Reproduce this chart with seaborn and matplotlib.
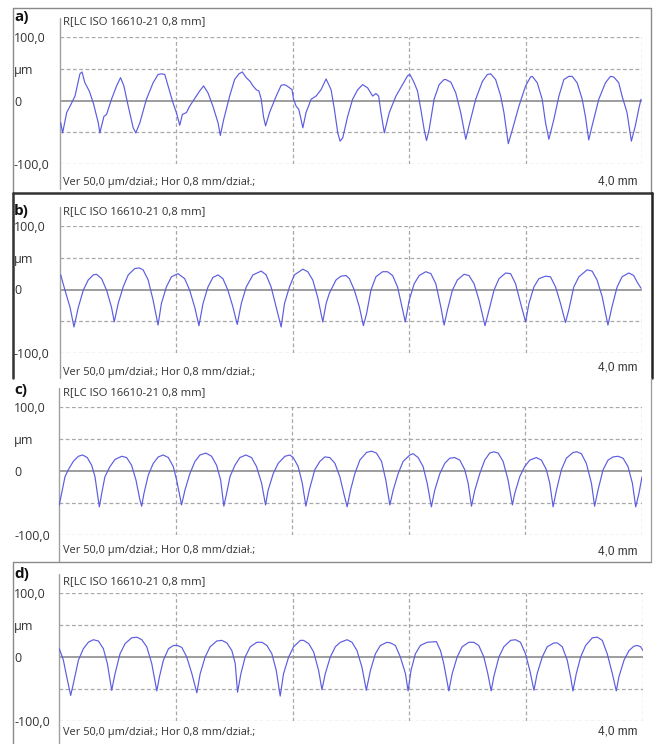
import numpy as np
import pandas as pd
import seaborn as sns
import matplotlib.pyplot as plt
from matplotlib.lines import Line2D

# profile readings: x in mm, y in um
a_x = [0.005, 0.018, 0.046, 0.080, 0.103, 0.137, 0.151, 0.171, 0.201, 0.229, 0.263, 0.274,
       0.302, 0.320, 0.354, 0.389, 0.416, 0.439, 0.469, 0.503, 0.521, 0.549, 0.594, 0.640,
       0.674, 0.697, 0.720, 0.743, 0.777, 0.800, 0.823, 0.841, 0.869, 0.891, 0.937, 0.960,
       0.987, 1.017, 1.051, 1.086, 1.102, 1.125, 1.166, 1.200, 1.230, 1.253, 1.280, 1.307,
       1.326, 1.349, 1.367, 1.383, 1.399, 1.413, 1.440, 1.486, 1.520, 1.543, 1.566, 1.595,
       1.605, 1.623, 1.641, 1.657, 1.669, 1.691, 1.726, 1.760, 1.794, 1.829, 1.863, 1.886,
       1.909, 1.925, 1.943, 1.977, 2.011, 2.046, 2.080, 2.114, 2.149, 2.171, 2.190, 2.206,
       2.229, 2.263, 2.309, 2.354, 2.389, 2.405, 2.434, 2.457, 2.480, 2.503, 2.519, 2.537,
       2.571, 2.606, 2.640, 2.651, 2.686, 2.720, 2.754, 2.789, 2.811, 2.857, 2.903, 2.937,
       2.960, 2.994, 3.029, 3.051, 3.081, 3.109, 3.154, 3.200, 3.234, 3.246, 3.280, 3.314,
       3.337, 3.360, 3.394, 3.429, 3.463, 3.497, 3.520, 3.554, 3.589, 3.611, 3.634, 3.657,
       3.703, 3.749, 3.783, 3.806, 3.840, 3.863, 3.897, 3.927, 3.954, 3.977, 3.993]
a_y = [-35, -51, -19, -4, 7, 42, 45, 28, 15, -4, -35, -51,
       -25, -22, 2, 23, 36, 23, -9, -43, -51, -35, 2, 28,
       41, 42, 41, 23, -4, -19, -39, -22, -19, -9, 7, 15,
       23, 12, -9, -35, -55, -30, 7, 33, 42, 45, 36, 30,
       23, 17, 15, 2, -26, -40, -19, 7, 24, 25, 22, 17,
       2, -9, -14, -30, -43, -19, 2, 7, 17, 34, 17, -14,
       -51, -64, -59, -25, 2, 17, 25, 20, 7, 11, 7, -19,
       -51, -19, 7, 25, 39, 41, 28, 15, -14, -46, -63, -46,
       2, 25, 33, 33, 29, 12, -19, -61, -40, 2, 30, 41,
       42, 33, 7, -19, -68, -46, -9, 23, 37, 38, 28, 2,
       -35, -61, -30, 7, 33, 38, 38, 28, 2, -25, -62, -40,
       2, 28, 38, 37, 28, 7, -19, -64, -40, -14, 2]

b_x = [0.005, 0.034, 0.069, 0.096, 0.126, 0.160, 0.194, 0.229, 0.251, 0.286, 0.320, 0.354,
       0.373, 0.400, 0.434, 0.469, 0.514, 0.544, 0.571, 0.606, 0.640, 0.674, 0.697, 0.731,
       0.766, 0.811, 0.857, 0.891, 0.926, 0.955, 0.983, 1.017, 1.051, 1.086, 1.120, 1.154,
       1.189, 1.218, 1.246, 1.280, 1.326, 1.383, 1.417, 1.451, 1.486, 1.520, 1.543, 1.577,
       1.611, 1.669, 1.703, 1.737, 1.771, 1.806, 1.829, 1.851, 1.897, 1.931, 1.966, 1.989,
       2.023, 2.057, 2.085, 2.107, 2.137, 2.171, 2.217, 2.251, 2.286, 2.320, 2.350, 2.373,
       2.400, 2.434, 2.469, 2.514, 2.549, 2.583, 2.617, 2.640, 2.663, 2.697, 2.731, 2.777,
       2.811, 2.846, 2.880, 2.921, 2.949, 2.983, 3.017, 3.063, 3.097, 3.131, 3.166, 3.200,
       3.223, 3.257, 3.291, 3.337, 3.371, 3.406, 3.440, 3.474, 3.497, 3.531, 3.566, 3.623,
       3.657, 3.691, 3.726, 3.766, 3.794, 3.829, 3.863, 3.909, 3.943, 3.966, 3.993]
b_y = [23, -1, -28, -59, -28, -1, 15, 23, 24, 17, -1, -28,
       -51, -22, 4, 23, 33, 34, 31, 15, -17, -56, -22, 4,
       20, 25, 17, -1, -28, -57, -22, 4, 19, 23, 17, -1,
       -28, -55, -22, 4, 23, 29, 23, 4, -28, -59, -22, 4,
       23, 32, 28, 15, -12, -51, -22, -6, 15, 21, 22, 17,
       -1, -27, -57, -38, -1, 20, 28, 28, 22, 4, -27, -51,
       -17, 9, 22, 28, 25, 9, -27, -56, -32, -1, 15, 24,
       22, 9, -17, -57, -32, -1, 17, 26, 25, 9, -22, -51,
       -22, 4, 17, 21, 20, 4, -22, -52, -32, 4, 20, 31,
       29, 15, -11, -56, -27, 4, 20, 26, 22, 12, 2]

c_x = [0.002, 0.018, 0.041, 0.064, 0.098, 0.133, 0.162, 0.194, 0.224, 0.247, 0.263, 0.277,
       0.293, 0.315, 0.350, 0.384, 0.430, 0.464, 0.498, 0.528, 0.555, 0.567, 0.583, 0.613,
       0.647, 0.681, 0.715, 0.750, 0.784, 0.807, 0.830, 0.841, 0.864, 0.898, 0.933, 0.967,
       1.008, 1.047, 1.081, 1.109, 1.131, 1.150, 1.173, 1.207, 1.241, 1.282, 1.321, 1.355,
       1.390, 1.417, 1.435, 1.470, 1.504, 1.550, 1.584, 1.607, 1.641, 1.669, 1.694, 1.717,
       1.755, 1.790, 1.824, 1.858, 1.893, 1.927, 1.954, 1.977, 2.000, 2.030, 2.064, 2.110,
       2.144, 2.178, 2.213, 2.242, 2.270, 2.293, 2.327, 2.361, 2.407, 2.430, 2.464, 2.498,
       2.526, 2.555, 2.578, 2.613, 2.647, 2.681, 2.715, 2.750, 2.784, 2.807, 2.830, 2.853,
       2.887, 2.921, 2.955, 2.983, 3.013, 3.047, 3.081, 3.111, 3.127, 3.161, 3.195, 3.230,
       3.275, 3.310, 3.344, 3.367, 3.390, 3.413, 3.447, 3.481, 3.527, 3.554, 3.584, 3.618,
       3.653, 3.675, 3.698, 3.733, 3.767, 3.801, 3.836, 3.870, 3.904, 3.934, 3.957, 3.979, 4.000]
c_y = [-53, -35, -9, 2, 15, 23, 25, 21, 9, -9, -35, -56,
       -35, -9, 7, 18, 23, 21, 9, -14, -45, -55, -35, -6,
       12, 22, 25, 21, 7, -14, -40, -53, -30, -4, 15, 25,
       28, 23, 9, -14, -55, -35, -9, 9, 21, 25, 21, 7,
       -19, -53, -30, -4, 12, 23, 25, 21, 7, -19, -55, -30,
       2, 15, 22, 21, 12, -9, -35, -56, -30, -4, 17, 29,
       31, 28, 15, -14, -53, -30, -4, 15, 25, 27, 21, 7,
       -19, -56, -30, -4, 12, 20, 21, 17, 2, -19, -55, -30,
       -4, 17, 28, 30, 28, 15, -14, -53, -35, -9, 7, 17,
       21, 17, 2, -19, -56, -30, 2, 20, 29, 30, 27, 12,
       -19, -55, -30, 2, 17, 22, 23, 20, 7, -19, -56, -35, -9]

d_x = [0.002, 0.030, 0.053, 0.080, 0.098, 0.133, 0.167, 0.201, 0.235, 0.270, 0.304, 0.331,
       0.361, 0.384, 0.418, 0.453, 0.498, 0.533, 0.567, 0.601, 0.635, 0.670, 0.688, 0.715,
       0.750, 0.784, 0.811, 0.841, 0.875, 0.910, 0.944, 0.967, 1.001, 1.035, 1.081, 1.115,
       1.150, 1.184, 1.207, 1.223, 1.246, 1.275, 1.310, 1.355, 1.390, 1.424, 1.458, 1.488,
       1.515, 1.538, 1.573, 1.607, 1.653, 1.675, 1.710, 1.744, 1.778, 1.801, 1.824, 1.858,
       1.893, 1.927, 1.973, 2.007, 2.041, 2.075, 2.105, 2.133, 2.167, 2.201, 2.247, 2.270,
       2.304, 2.338, 2.373, 2.391, 2.411, 2.441, 2.475, 2.521, 2.585, 2.613, 2.635, 2.670,
       2.693, 2.727, 2.761, 2.807, 2.841, 2.875, 2.910, 2.937, 2.960, 2.978, 3.013, 3.047,
       3.093, 3.127, 3.161, 3.195, 3.225, 3.253, 3.275, 3.310, 3.344, 3.390, 3.413, 3.447,
       3.481, 3.504, 3.520, 3.543, 3.573, 3.607, 3.653, 3.687, 3.721, 3.755, 3.790, 3.817,
       3.835, 3.870, 3.904, 3.938, 3.961, 3.984, 4.000]
d_y = [13, -5, -31, -60, -42, -5, 13, 23, 27, 25, 13, -10,
       -52, -26, 5, 21, 30, 31, 27, 16, -10, -53, -31, -5,
       13, 18, 18, 15, 0, -26, -56, -26, 0, 16, 25, 26,
       22, 10, -10, -55, -26, 0, 16, 23, 23, 18, 5, -21,
       -61, -26, 0, 16, 26, 26, 21, 8, -21, -51, -26, 0,
       16, 23, 27, 23, 10, -16, -52, -21, 5, 18, 23, 22,
       18, 0, -26, -53, -21, 5, 18, 23, 24, 10, -10, -53,
       -26, 0, 16, 23, 23, 18, 0, -26, -53, -31, 0, 16,
       26, 27, 23, 5, -21, -52, -26, 0, 16, 22, 22, 16,
       -5, -31, -53, -26, 0, 18, 30, 31, 26, 5, -26, -53,
       -31, -5, 10, 17, 18, 16, 10]

labels = ["a)", "b)", "c)", "d)"]
title = "R[LC ISO 16610-21 0,8 mm]"
footer = "Ver 50,0 \u00b5m/dzia\u0142.; Hor 0,8 mm/dzia\u0142.;"
length_label = "4,0 mm"
ytick_vals = [100, 50, 0, -100]
ytick_text = ["100,0", "\u00b5m", "0", "-100,0"]
xgrid = [0.8, 1.6, 2.4, 3.2, 4.0]

sns.set_style("white")
plt.rcParams['font.family'] = ['Open Sans', 'DejaVu Sans']

W, H = 655, 744
fig = plt.figure(figsize=(W / 100, H / 100), dpi=100)

def fx(px):
    return px / W

def fy(py):
    return 1 - py / H

# axes boxes in pixels: left, right, top(100), bottom(-100)
boxes = [(60, 642, 37, 164), (60, 642, 226, 353), (59, 642, 407, 535), (59, 643, 593, 721)]
lab_y = [17, 211, 390, 574]
tit_y = [22, 212, 393, 582]
foot_y = [182, 372, 551, 733]
len_y = [182, 368, 551, 732]

data = [(a_x, a_y), (b_x, b_y), (c_x, c_y), (d_x, d_y)]
line_col = "#5c5ce0"
grid_col = "#a8a8a8"

for i, (xs, ys) in enumerate(data):
    l, r, t, b = boxes[i]
    ax = fig.add_axes([fx(l), fy(b), (r - l) / W, (b - t) / H])
    df = pd.DataFrame({"x": xs, "y": ys})
    sns.lineplot(data=df, x="x", y="y", ax=ax, color=line_col, linewidth=0.85,
                 sort=False, estimator=None, zorder=3)
    ax.set_xlim(0, 4.0)
    ax.set_ylim(-100, 100)
    for s in ax.spines.values():
        s.set_visible(False)
    for gv in [100, 50, -50, -100]:
        ax.axhline(gv, color=grid_col, lw=0.9, ls=(0, (3, 2)), zorder=1)
    for gx in xgrid:
        ax.axvline(gx, color=grid_col, lw=0.9, ls=(0, (3, 2)), zorder=1)
    ax.axhline(0, color="#8c8c8c", lw=1.2, zorder=2)
    ax.plot([0, 0], [-0.2, 1.15], transform=ax.transAxes, color="#a0a0a0",
            lw=1.0, clip_on=False)
    ax.set_xticks([])
    ax.set_yticks(ytick_vals)
    ax.set_yticklabels(ytick_text, fontsize=9, color="#333333")
    for tl in ax.get_yticklabels():
        tl.set_horizontalalignment("left")
    ax.tick_params(axis="y", length=0, pad=(l - 14) * 0.72)
    ax.set_xlabel("")
    ax.set_ylabel("")
    fig.text(fx(14), fy(lab_y[i]), labels[i], fontsize=11, fontweight="bold",
             ha="left", va="center", color="#111111")
    fig.text(fx(63), fy(tit_y[i]), title, fontsize=8.1, ha="left", va="center",
             color="#333333")
    fig.text(fx(63), fy(foot_y[i]), footer, fontsize=7.9, ha="left", va="center",
             color="#333333")
    fig.text(fx(638), fy(len_y[i]), length_label, fontsize=8.5, ha="right",
             va="center", color="#333333", family=["Liberation Sans", "DejaVu Sans"])

# panel frames
def seg(x0, y0, x1, y1, col, lw):
    fig.add_artist(Line2D([fx(x0), fx(x1)], [fy(y0), fy(y1)], color=col, lw=lw,
                          transform=fig.transFigure))

seg(13, 8, 651, 8, "#8a8a8a", 1.0)
seg(13, 8, 13, 193, "#8a8a8a", 1.0)
seg(651, 8, 651, 193, "#8a8a8a", 1.0)
seg(13, 193, 652, 193, "#333333", 1.8)
seg(13, 193, 13, 378, "#333333", 1.8)
seg(652, 193, 652, 378, "#222222", 1.8)
seg(651, 378, 651, 562, "#9a9a9a", 0.9)
seg(13, 562, 651, 562, "#8a8a8a", 1.0)
seg(13, 562, 13, 744, "#8a8a8a", 1.0)

fig.savefig("out.png", dpi=100)
